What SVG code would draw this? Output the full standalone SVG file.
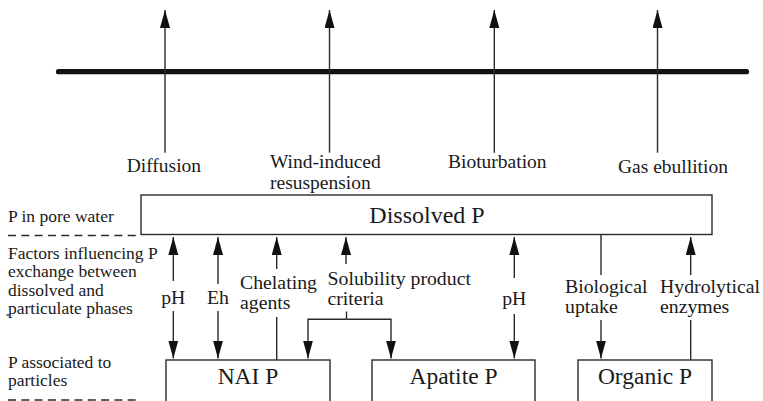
<svg xmlns="http://www.w3.org/2000/svg" width="763" height="401" viewBox="0 0 763 401">
<style>
.top{font-size:19.5px}
.mid{font-size:19.8px}
.side{font-size:17.5px}
.box{font-size:23.5px}
.c{text-anchor:middle}
rect{fill:#fff;stroke:#2a2a2a;stroke-width:1.4}
.ln{stroke:#2a2a2a;stroke-width:1.4;fill:none}
.dash{stroke:#2a2a2a;stroke-width:1.4;stroke-dasharray:8 5.3;fill:none}
.ar{marker-end:url(#ah)}
</style>
<defs>
<marker id="ah" markerUnits="userSpaceOnUse" markerWidth="19" markerHeight="11" refX="18" refY="5" orient="auto" viewBox="0 0 19 11">
<path d="M0,0 L18,5 L0,10 z" fill="#111"/>
</marker>
</defs>

<g id="sediment-surface">
<line x1="58.5" y1="71.7" x2="746.5" y2="71.7" stroke="#111" stroke-width="5.2" stroke-linecap="round"/>
</g>

<g id="connectors">
<line class="ln ar" x1="165" y1="152.7" x2="165" y2="10"/>
<line class="ln ar" x1="329.5" y1="152.7" x2="329.5" y2="10"/>
<line class="ln ar" x1="494.3" y1="152.7" x2="494.3" y2="10"/>
<line class="ln ar" x1="657.5" y1="152.7" x2="657.5" y2="10"/>
<line class="ln" x1="173.3" y1="240" x2="173.3" y2="281"/>
<line class="ln" x1="173.3" y1="311" x2="173.3" y2="354"/>
<path class="ln ar" d="M173.3,250 L173.3,237"/>
<path class="ln ar" d="M173.3,345 L173.3,358.5"/>
<line class="ln" x1="218" y1="240" x2="218" y2="284"/>
<line class="ln" x1="218" y1="311" x2="218" y2="354"/>
<path class="ln ar" d="M218,250 L218,237"/>
<path class="ln ar" d="M218,345 L218,358.5"/>
<line class="ln ar" x1="276.7" y1="269" x2="276.7" y2="237"/>
<line class="ln" x1="276.7" y1="317" x2="276.7" y2="360"/>
<line class="ln ar" x1="346" y1="264" x2="346" y2="237"/>
<polyline class="ln" points="346.5,311.5 346.5,319.3"/>
<polyline class="ln ar" points="346.5,319.3 308,319.3 308,358.5"/>
<polyline class="ln ar" points="346.5,319.3 391,319.3 391,358.5"/>
<line class="ln" x1="514.3" y1="240" x2="514.3" y2="278"/>
<line class="ln" x1="514.3" y1="314" x2="514.3" y2="354"/>
<path class="ln ar" d="M514.3,250 L514.3,237"/>
<path class="ln ar" d="M514.3,345 L514.3,358.5"/>
<line class="ln" x1="601" y1="235" x2="601" y2="275"/>
<line class="ln ar" x1="601" y1="320" x2="601" y2="358.5"/>
<line class="ln ar" x1="690.7" y1="275" x2="690.7" y2="237"/>
<line class="ln" x1="690.7" y1="320" x2="690.7" y2="360"/>
</g>

<g id="process-labels" fill="#1a1a1a">
<text class="top" style="font-family:'Liberation Serif',serif" x="126.7" y="171.7">Diffusion</text>
<text class="top" style="font-family:'Liberation Serif',serif" x="270" y="168.3">Wind-induced<tspan x="270" y="189">resuspension</tspan></text>
<text class="top" style="font-family:'Liberation Serif',serif" x="448" y="168.3">Bioturbation</text>
<text class="top" style="font-family:'Liberation Serif',serif" x="618" y="173.3">Gas ebullition</text>
</g>

<g id="dissolved-p">
<rect x="141" y="195" width="571" height="39.5"/>
<text class="c" style="font-family:'Liberation Serif',serif;font-size:24px" fill="#1a1a1a" x="427" y="223">Dissolved P</text>
</g>

<g id="nai-p">
<rect x="166" y="360" width="164" height="45"/>
<text class="box c" style="font-family:'Liberation Serif',serif" fill="#1a1a1a" x="248" y="383.5">NAI P</text>
</g>

<g id="apatite-p">
<rect x="372" y="360" width="163" height="45"/>
<text class="box c" style="font-family:'Liberation Serif',serif" fill="#1a1a1a" x="453.5" y="383.5">Apatite P</text>
</g>

<g id="organic-p">
<rect x="578" y="360" width="134" height="45"/>
<text class="box c" style="font-family:'Liberation Serif',serif" fill="#1a1a1a" x="645" y="383.5">Organic P</text>
</g>

<g id="factor-labels" fill="#1a1a1a">
<text class="mid c" style="font-family:'Liberation Serif',serif" x="173.3" y="303.5">pH</text>
<text class="mid c" style="font-family:'Liberation Serif',serif" x="218" y="303.5">Eh</text>
<text class="mid" style="font-family:'Liberation Serif',serif" x="240" y="289">Chelating<tspan x="240" y="309">agents</tspan></text>
<text class="mid" style="font-family:'Liberation Serif',serif" x="327.5" y="284.5">Solubility product<tspan x="327.5" y="304.5">criteria</tspan></text>
<text class="mid c" style="font-family:'Liberation Serif',serif" x="514.3" y="305">pH</text>
<text class="mid" style="font-family:'Liberation Serif',serif" x="565" y="293">Biological<tspan x="565" y="313">uptake</tspan></text>
<text class="mid" style="font-family:'Liberation Serif',serif" x="660" y="293">Hydrolytical<tspan x="660" y="313">enzymes</tspan></text>
</g>

<g id="side-labels" fill="#1a1a1a">
<text class="side" style="font-family:'Liberation Serif',serif" x="8" y="222">P in pore water</text>
<line class="dash" x1="8" y1="235.5" x2="141" y2="235.5"/>
<text class="side" style="font-family:'Liberation Serif',serif" x="8" y="258.5">Factors influencing P<tspan x="8" y="277">exchange between</tspan><tspan x="8" y="295.5">dissolved and</tspan><tspan x="8" y="314">particulate phases</tspan></text>
<line class="ln" x1="6.5" y1="315" x2="9.5" y2="315"/>
<text class="side" style="font-family:'Liberation Serif',serif" x="8" y="368">P associated to<tspan x="8" y="386">particles</tspan></text>
<line class="dash" x1="8" y1="400" x2="141" y2="400"/>
</g>
</svg>
